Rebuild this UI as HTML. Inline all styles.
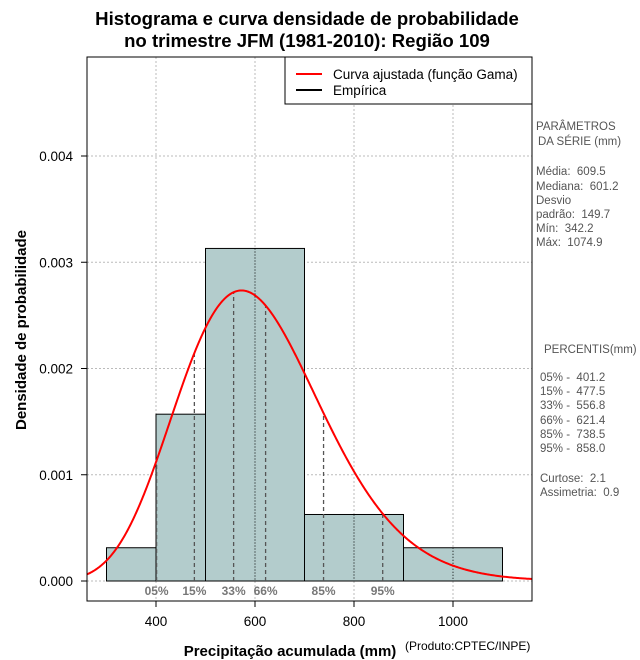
<!DOCTYPE html>
<html><head><meta charset="utf-8"><style>
body{margin:0;background:#fff}
svg{display:block;font-family:"Liberation Sans",sans-serif}
text{white-space:pre}
</style></head><body>
<svg id="chart" width="640" height="660" viewBox="0 0 640 660" xmlns="http://www.w3.org/2000/svg" xml:space="preserve">
<rect width="640" height="660" fill="#fff"/>
<text x="307" y="25" text-anchor="middle" font-size="18.6" font-weight="bold">Histograma e curva densidade de probabilidade</text>
<text x="307" y="47" text-anchor="middle" font-size="18.6" font-weight="bold">no trimestre JFM (1981-2010): Região 109</text>
<g id="grid"></g>
<g id="bars"></g>
<g id="pct"></g>
<path id="curve" fill="none" stroke="#f00" stroke-width="2"/>
<g id="axes"></g>
<rect x="87" y="57" width="445" height="544" fill="none" stroke="#000"/>
<g>
<rect x="285" y="57" width="247" height="47" fill="#fff" stroke="#000"/>
<line x1="296" y1="74" x2="322" y2="74" stroke="#f00" stroke-width="2"/>
<text x="333" y="79" font-size="13.5">Curva ajustada (função Gama)</text>
<line x1="296" y1="90" x2="322" y2="90" stroke="#000" stroke-width="2"/>
<text x="333" y="95" font-size="13.5">Empírica</text>
</g>
<text transform="translate(26,330) rotate(-90)" text-anchor="middle" font-size="15" font-weight="bold">Densidade de probabilidade</text>
<text x="290" y="656" text-anchor="middle" font-size="15" font-weight="bold">Precipitação acumulada (mm)</text>
<text x="405" y="650" font-size="12">(Produto:CPTEC/INPE)</text>
<g font-size="11.5" fill="#555">
<text x="536" y="130">PARÂMETROS</text>
<text x="538" y="145">DA SÉRIE (mm)</text>
<text x="536" y="175">Média:  609.5</text>
<text x="536" y="190">Mediana:  601.2</text>
<text x="536" y="204">Desvio</text>
<text x="536" y="218">padrão:  149.7</text>
<text x="536" y="232">Mín:  342.2</text>
<text x="536" y="246">Máx:  1074.9</text>
<text x="544" y="353">PERCENTIS(mm)</text>
<text x="540" y="381">05% -  401.2</text>
<text x="540" y="395">15% -  477.5</text>
<text x="540" y="409">33% -  556.8</text>
<text x="540" y="424">66% -  621.4</text>
<text x="540" y="438">85% -  738.5</text>
<text x="540" y="452">95% -  858.0</text>
<text x="540" y="482">Curtose:  2.1</text>
<text x="540" y="496">Assimetria:  0.9</text>
</g>
</svg>
<script>
const binEdges=[300,400,500,700,900,1100];
const densities=[0.000313,0.00157,0.00313,0.000626,0.000313];
const xTicks=[400,600,800,1000];
const yTicks=[0,0.001,0.002,0.003,0.004];
const yTickLabels=["0.000","0.001","0.002","0.003","0.004"];
const pctLabels=["05%","15%","33%","66%","85%","95%"];
const pctValues=[401.2,477.5,556.8,621.4,738.5,858.0];
const gammaMean=[609.5];
const gammaSd=[149.7];
const NS="http://www.w3.org/2000/svg";
const X=v=>156+(v-400)*0.495;
const Y=v=>581-v*106.25e3;
function mk(p,t,a){const e=document.createElementNS(NS,t);for(const k in a)e.setAttribute(k,a[k]);p.appendChild(e);return e;}
const k=Math.pow(gammaMean[0]/gammaSd[0],2), th=gammaSd[0]*gammaSd[0]/gammaMean[0];
function lgam(z){const c=[76.18009172947146,-86.50532032941677,24.01409824083091,-1.231739572450155,0.1208650973866179e-2,-0.5395239384953e-5];let x=z,y=z,t=x+5.5;t-=(x+0.5)*Math.log(t);let s=1.000000000190015;for(const q of c)s+=q/++y;return -t+Math.log(2.5066282746310005*s/x);}
const lg=lgam(k);
const dens=x=>Math.exp((k-1)*Math.log(x)-x/th-lg-k*Math.log(th));
const grid=document.getElementById('grid'),bars=document.getElementById('bars'),pct=document.getElementById('pct'),axes=document.getElementById('axes');
xTicks.forEach(v=>{const l=mk(grid,'line',{x1:X(v),x2:X(v),y1:57,y2:601,stroke:'#bbb','stroke-dasharray':'2,2'});

});
yTicks.forEach(v=>{const l=mk(grid,'line',{x1:87,x2:532,y1:Y(v),y2:Y(v),stroke:'#bbb','stroke-dasharray':'2,2'});

});
densities.forEach((d,i)=>{const r=mk(bars,'rect',{x:X(binEdges[i]),y:Y(d),width:X(binEdges[i+1])-X(binEdges[i]),height:Y(0)-Y(d),fill:'#b3cccc',stroke:'#000'});


xTicks.forEach(v=>{if(v>binEdges[i]&&v<binEdges[i+1]){const l=mk(bars,'line',{x1:X(v),x2:X(v),y1:Y(d),y2:Y(0),stroke:'#000','stroke-dasharray':'1,2'});

}});});
const bl=mk(bars,'line',{x1:X(binEdges[0]),x2:X(binEdges[binEdges.length-1]),y1:Y(0),y2:Y(0),stroke:'#000','stroke-dasharray':'1,2'});


pctValues.forEach((v,i)=>{const l=mk(pct,'line',{x1:X(v),x2:X(v),y1:Y(0),y2:Y(dens(v)),stroke:'#555','stroke-width':1.3,'stroke-dasharray':'4,3'});


const t=mk(pct,'text',{x:X(v),y:595,'text-anchor':'middle','font-size':12,'font-weight':'bold',fill:'#777'});t.textContent=pctLabels[i];

});
let d='';for(let px=87;px<=532;px++){const v=400+(px-156)/0.495;d+=(d?'L':'M')+px+','+Y(dens(v)).toFixed(2);}
document.getElementById('curve').setAttribute('d',d);
xTicks.forEach(v=>{mk(axes,'line',{x1:X(v),x2:X(v),y1:601,y2:607,stroke:'#000'});const t=mk(axes,'text',{x:X(v),y:626,'text-anchor':'middle','font-size':13.5});t.textContent=v;

});
yTicks.forEach((v,i)=>{mk(axes,'line',{x1:81,x2:87,y1:Y(v),y2:Y(v),stroke:'#000'});const t=mk(axes,'text',{x:73,y:Y(v)+5,'text-anchor':'end','font-size':13.5});t.textContent=yTickLabels[i];

});
</script>
</body></html>
